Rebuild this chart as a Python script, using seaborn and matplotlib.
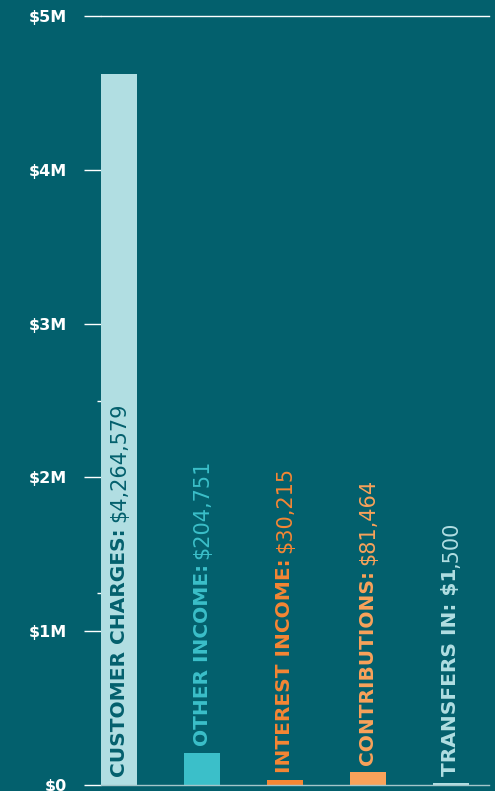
import matplotlib
matplotlib.use("Agg")
import matplotlib.pyplot as plt
import seaborn as sns
import pandas as pd

categories = ["CUSTOMER CHARGES", "OTHER INCOME", "INTEREST INCOME", "CONTRIBUTIONS", "TRANSFERS IN"]
values = [4623000, 206000, 31000, 83000, 12000]
bold_labels = ["CUSTOMER CHARGES:", "OTHER INCOME:", "INTEREST INCOME:", "CONTRIBUTIONS:", "TRANSFERS IN: $1"]
value_labels = ["$4,264,579", "$204,751", "$30,215", "$81,464", ",500"]
bar_colors = ["#b1dee2", "#3bbfc9", "#f58634", "#f9a25a", "#b1dee2"]
label_colors = ["#03606d", "#3bbfc9", "#f58634", "#f9a25a", "#b1dee2"]
tick_values = [0, 1e6, 2e6, 3e6, 4e6, 5e6]
tick_labels = ["$0", "$1M", "$2M", "$3M", "$4M", "$5M"]
minor_tick_values = [1.25e6, 2.5e6]

BG = "#03606d"

sns.set_theme(style="white")
plt.rcParams["font.family"] = ["DejaVu Sans"]

fig = plt.figure(figsize=(4.95, 7.91), dpi=100, facecolor=BG)
ax = fig.add_axes([101 / 495, 6 / 791, 388 / 495, 769 / 791])
ax.set_facecolor(BG)

df = pd.DataFrame({"cat": categories, "val": values})
sns.barplot(data=df, x="cat", y="val", hue="cat", palette=bar_colors,
            legend=False, width=0.434, saturation=1, linewidth=0, ax=ax)

ax.set_ylim(0, 5e6)
ax.set_xlim(-0.217, 4.458)
ax.set_xticks([])
ax.set_xlabel("")
ax.set_ylabel("")
ax.set_yticks(tick_values, tick_labels)
ax.set_yticks(minor_tick_values, minor=True)
ax.tick_params(axis="y", which="major", left=True, direction="out", length=12.2, width=1.0,
               color="white", pad=12, labelcolor="white", labelsize=11.5)
ax.tick_params(axis="y", which="minor", left=True, direction="out", length=3, width=1.0,
               color="white")
for lbl in ax.get_yticklabels():
    lbl.set_fontweight("bold")

for side in ["left", "right"]:
    ax.spines[side].set_visible(False)
ax.spines["top"].set_color("white")
ax.spines["top"].set_linewidth(1.0)
ax.spines["bottom"].set_color("#a3c6ca")
ax.spines["bottom"].set_linewidth(1.0)

for i, (v, bl, vl, c) in enumerate(zip(values, bold_labels, value_labels, label_colors)):
    if v > 1e6:
        y0, off = 0, 6
    else:
        y0, off = v, 5
    t1 = ax.annotate(bl, xy=(i, y0), xytext=(0, off), textcoords="offset points",
                     ha="center", va="bottom", rotation=90, fontsize=14.5,
                     fontweight="bold", color=c)
    gap = 0 if vl.startswith(",") else 4
    ax.annotate(vl, xy=(0.5, 1), xycoords=t1, xytext=(0, gap), textcoords="offset points",
                ha="center", va="bottom", rotation=90, fontsize=15,
                fontweight="normal", color=c)

fig.savefig("out.png", dpi=100, facecolor=BG)
